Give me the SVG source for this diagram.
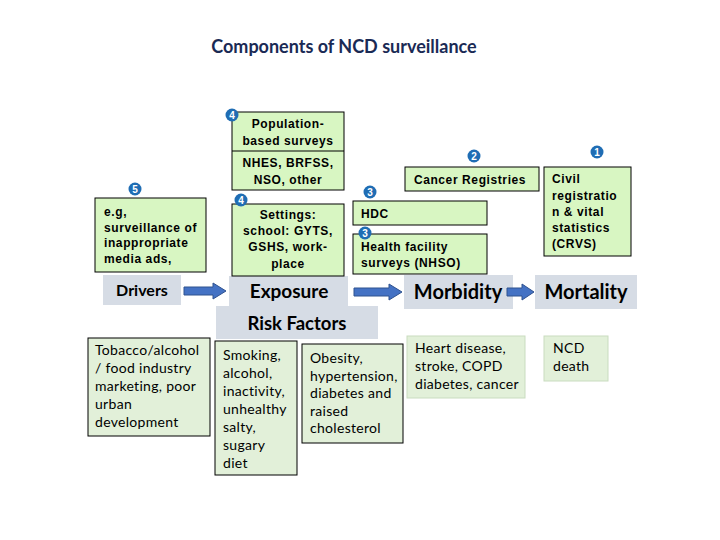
<svg xmlns="http://www.w3.org/2000/svg" width="720" height="540" viewBox="0 0 720 540">
<defs>
<style>
.g1{fill:#d8f6c2;stroke:#000;stroke-width:1}
.g2{fill:#e2f0d9;stroke:#000;stroke-width:1}
.g3{fill:#e2f0d9;stroke:#c9dcbf;stroke-width:1}
.gr{fill:#d6dce5;stroke:none}
.a{font-family:"Liberation Sans",Arial,sans-serif;font-size:12px;font-weight:bold;fill:#000;letter-spacing:0.6px}
.c{font-family:Lato,"Open Sans",sans-serif;font-size:14px;fill:#000;letter-spacing:0.3px}
.big{font-family:Lato,"Open Sans",sans-serif;font-weight:bold;fill:#000}
.mid{text-anchor:middle}
.bc{fill:#1f6db4}
.bt{font-family:"Liberation Sans",Arial,sans-serif;font-size:10px;font-weight:bold;fill:#fff;text-anchor:middle}
.arr{fill:#4472c4;stroke:#2f528f;stroke-width:1}
</style>
</defs>
<rect width="720" height="540" fill="#fff"/>
<text x="344" y="53" text-anchor="middle" font-family="Lato,'Open Sans',sans-serif" font-size="18" font-weight="bold" fill="#1a2a55">Components of NCD surveillance</text>

<g id="gray-boxes">
<rect id="drivers" class="gr" x="103" y="275" width="78" height="30"/>
<rect id="exposure" class="gr" x="229" y="276" width="119" height="30"/>
<rect id="riskfactors" class="gr" x="216" y="306" width="162" height="33"/>
<rect id="morbidity" class="gr" x="404" y="275" width="109" height="34"/>
<rect id="mortality" class="gr" x="535" y="275" width="102" height="34"/>
<text class="big mid" x="142" y="296" font-size="16">Drivers</text>
<text class="big mid" x="289" y="298" font-size="19">Exposure</text>
<text class="big mid" x="297" y="330" font-size="18.5">Risk Factors</text>
<text class="big mid" x="458" y="299" font-size="20">Morbidity</text>
<text class="big mid" x="586" y="299" font-size="20">Mortality</text>
</g>

<g id="connectors">
<polygon class="arr" points="184,287 213,287 213,283 226,291 213,299 213,295 184,295"/>
<polygon class="arr" points="354,288 389,288 389,284 402,292 389,300 389,296 354,296"/>
<polygon class="arr" points="507,288 522,288 522,284 534,292 522,300 522,296 507,296"/>
</g>

<g id="population">
<rect class="g1" x="232" y="112" width="112" height="78"/>
<line x1="232" y1="151" x2="344" y2="151" stroke="#000"/>
<text class="a mid" x="288" y="128">Population-</text>
<text class="a mid" x="288" y="145">based surveys</text>
<text class="a mid" x="288" y="167">NHES, BRFSS,</text>
<text class="a mid" x="288" y="184">NSO, other</text>
<circle class="bc" cx="232" cy="115" r="6.5"/><text class="bt" x="232" y="118.6">4</text>
</g>

<g id="media">
<rect class="g1" x="95" y="198" width="111" height="74"/>
<text class="a" x="104" y="216">e.g,</text>
<text class="a" x="104" y="231.5">surveillance of</text>
<text class="a" x="104" y="247">inappropriate</text>
<text class="a" x="104" y="262.5">media ads,</text>
<circle class="bc" cx="135" cy="189" r="6.5"/><text class="bt" x="135" y="192.6">5</text>
</g>

<g id="settings">
<rect class="g1" x="232" y="204" width="112" height="72"/>
<text class="a mid" x="288" y="219">Settings:</text>
<text class="a mid" x="288" y="235">school: GYTS,</text>
<text class="a mid" x="288" y="251">GSHS, work-</text>
<text class="a mid" x="288" y="268">place</text>
<circle class="bc" cx="241" cy="200" r="6.5"/><text class="bt" x="241" y="203.6">4</text>
</g>

<g id="hdc">
<rect class="g1" x="353" y="201" width="134" height="24"/>
<text class="a" x="361" y="218">HDC</text>
<circle class="bc" cx="370" cy="192" r="6.5"/><text class="bt" x="370" y="195.6">3</text>
</g>

<g id="healthfacility">
<rect class="g1" x="353" y="234" width="134" height="40"/>
<text class="a" x="361" y="251">Health facility</text>
<text class="a" x="361" y="267">surveys (NHSO)</text>
<circle class="bc" cx="365" cy="233" r="6.5"/><text class="bt" x="365" y="236.6">3</text>
</g>

<g id="cancer">
<rect class="g1" x="405" y="167" width="134" height="24"/>
<text class="a mid" x="470" y="184">Cancer Registries</text>
<circle class="bc" cx="474" cy="156" r="6.5"/><text class="bt" x="474" y="159.6">2</text>
</g>

<g id="crvs">
<rect class="g1" x="544" y="167" width="87" height="89"/>
<text class="a" x="552" y="183">Civil</text>
<text class="a" x="552" y="199.5">registratio</text>
<text class="a" x="552" y="216">n &amp; vital</text>
<text class="a" x="552" y="232">statistics</text>
<text class="a" x="552" y="248">(CRVS)</text>
<circle class="bc" cx="597" cy="152" r="6.5"/><text class="bt" x="597" y="155.6">1</text>
</g>

<g id="tobacco">
<rect class="g2" x="88" y="338" width="122" height="98"/>
<text class="c" x="95" y="355">Tobacco/alcohol</text>
<text class="c" x="95" y="373">/ food industry</text>
<text class="c" x="95" y="391">marketing, poor</text>
<text class="c" x="95" y="409">urban</text>
<text class="c" x="95" y="427">development</text>
</g>

<g id="smoking">
<rect class="g2" x="215" y="341" width="82" height="134"/>
<text class="c" x="223" y="360">Smoking,</text>
<text class="c" x="223" y="378">alcohol,</text>
<text class="c" x="223" y="396">inactivity,</text>
<text class="c" x="223" y="414">unhealthy</text>
<text class="c" x="223" y="432">salty,</text>
<text class="c" x="223" y="450">sugary</text>
<text class="c" x="223" y="468">diet</text>
</g>

<g id="obesity">
<rect class="g2" x="302" y="344" width="101" height="99"/>
<text class="c" x="310" y="363">Obesity,</text>
<text class="c" x="310" y="381">hypertension,</text>
<text class="c" x="310" y="398">diabetes and</text>
<text class="c" x="310" y="416">raised</text>
<text class="c" x="310" y="433">cholesterol</text>
</g>

<g id="heart">
<rect class="g3" x="407" y="336" width="118" height="62"/>
<text class="c" x="415" y="353">Heart disease,</text>
<text class="c" x="415" y="371">stroke, COPD</text>
<text class="c" x="415" y="389">diabetes, cancer</text>
</g>

<g id="ncddeath">
<rect class="g3" x="544" y="336" width="64" height="45"/>
<text class="c" x="553" y="353">NCD</text>
<text class="c" x="553" y="371">death</text>
</g>
</svg>
